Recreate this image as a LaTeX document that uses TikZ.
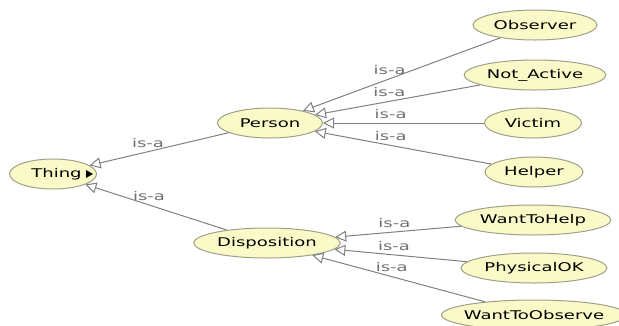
\documentclass[tikz,border=0pt]{standalone}
\usepackage{fontspec}
\setmainfont{DejaVu Sans}[FakeStretch=1.5]
\usepackage{xcolor}
\usetikzlibrary{arrows.meta,shapes.geometric,calc}
\definecolor{OntoFill}{HTML}{FAFAC8}
\definecolor{OntoRim}{HTML}{A0A088}
\definecolor{OntoLine}{HTML}{808080}
\definecolor{OntoText}{HTML}{707070}

\begin{document}
\begin{tikzpicture}[
  x=1pt, y=-1pt,
  every node/.style={font=\fontsize{12}{14}\selectfont},
  cls/.style={ellipse, draw=OntoRim, fill=OntoFill, line width=1pt, inner xsep=2pt, inner ysep=0pt, minimum height=30pt, minimum width=#1},
  isa/.style={-{Triangle[open, length=11pt, width=11pt]}, draw=OntoLine, line width=1pt},
  lbl/.style={text=OntoText, anchor=south, inner sep=1pt, yshift=3pt}
]
\useasboundingbox (0,0) rectangle (619,325);

\node[cls=87pt] (thing) at (53,174) {\hspace{7pt}Thing};
\fill ($(thing.center)+(33,-4)$) -- ($(thing.center)+(40,0)$) -- ($(thing.center)+(33,4)$) -- cycle;

\node[cls=105pt] (person) at (270,123) {Person};
\node[cls=135pt] (disposition) at (267,243) {Disposition};

\node[cls=124pt] (observer) at (535,25) {Observer};
\node[cls=140pt] (notactive) at (535,75) {Not\_Active};
\node[cls=97pt] (victim) at (533,123) {Victim};
\node[cls=98pt] (helper) at (534,172) {Helper};

\node[cls=150pt] (wanttohelp) at (533,220) {WantToHelp};
\node[cls=142pt] (physicalok) at (534,268) {PhysicalOK};
\node[cls=185pt, inner xsep=-8pt] (wanttoobserve) at (534,315) {WantToObserve};

\draw[isa] (person) -- node[lbl, pos=0.58] {is-a} (thing);
\draw[isa] (disposition) -- node[lbl, pos=0.55] {is-a} (thing);

\draw[isa] (observer) -- node[lbl, pos=0.56] {is-a} (person);
\draw[isa] (notactive) -- node[lbl, pos=0.55] {is-a} (person);
\draw[isa] (victim) -- node[lbl, pos=0.58] {is-a} (person);
\draw[isa] (helper) -- node[lbl, pos=0.57] {is-a} (person);

\draw[isa] (wanttohelp) -- node[lbl, pos=0.53] {is-a} (disposition);
\draw[isa] (physicalok) -- node[lbl, pos=0.55] {is-a} (disposition);
\draw[isa] (wanttoobserve) -- node[lbl, pos=0.54] {is-a} (disposition);
\end{tikzpicture}
\end{document}
